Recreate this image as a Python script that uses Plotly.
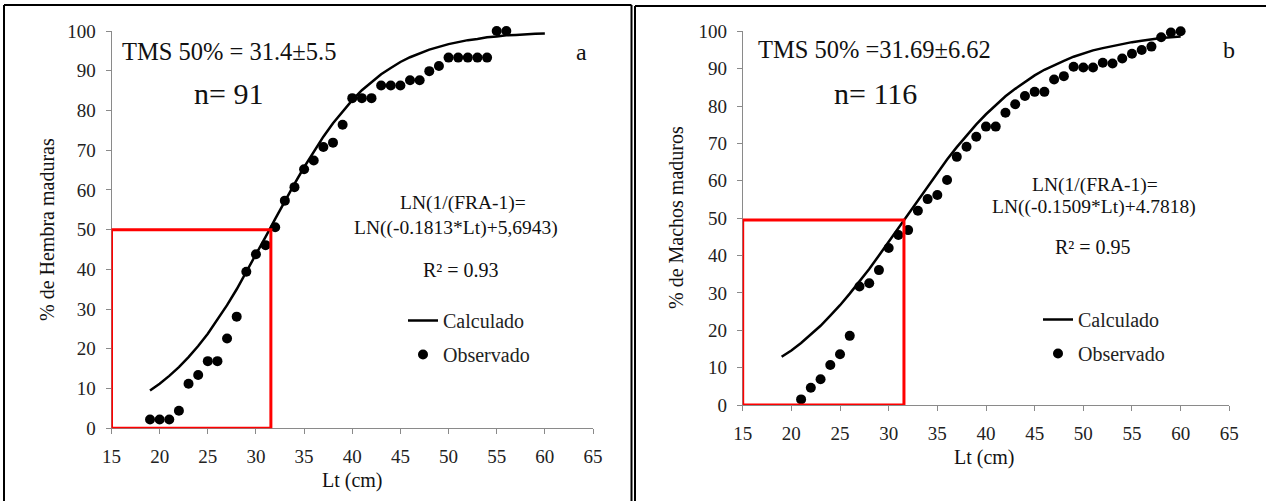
import plotly.graph_objects as go

W, H = 1267, 501
FONT = "Liberation Serif, Times New Roman, Tinos, serif"

# ---------------- data ----------------
# Panel a: hembras
lt_obs_a = list(range(19, 57))
pct_obs_a = [2.2, 2.2, 2.2, 4.4, 11.2, 13.4, 16.9, 16.9, 22.6, 28.1,
             39.4, 43.8, 46.1, 50.6, 57.3, 60.7, 65.2, 67.4, 70.8, 71.9,
             76.4, 83.1, 83.1, 83.1, 86.3, 86.3, 86.3, 87.6, 87.6, 89.9,
             91.2, 93.3, 93.3, 93.3, 93.3, 93.3, 100.0, 100.0]
lt_calc_a = list(range(19, 61))
pct_calc_a = [9.5, 11.2, 13.2, 15.4, 17.9, 20.7, 23.8, 27.3, 31.0, 35.0,
              39.3, 43.7, 48.2, 52.7, 57.2, 61.5, 65.7, 69.7, 73.4, 76.8,
              79.8, 82.6, 85.1, 87.2, 89.1, 90.7, 92.2, 93.4, 94.4, 95.3,
              96.0, 96.7, 97.2, 97.7, 98.0, 98.4, 98.6, 98.9, 99.0, 99.2,
              99.3, 99.4]

# Panel b: machos
lt_obs_b = list(range(21, 61))
pct_obs_b = [1.5, 4.6, 6.9, 10.7, 13.6, 18.5, 31.7, 32.6, 36.1, 42.0,
             45.5, 46.8, 52.0, 55.1, 56.2, 60.2, 66.4, 69.1, 71.8, 74.5,
             74.5, 78.2, 80.5, 82.7, 83.8, 83.8, 87.1, 88.0, 90.5, 90.3,
             90.3, 91.6, 91.4, 92.7, 94.0, 95.0, 95.9, 98.4, 99.7, 100.0]
lt_calc_b = list(range(19, 61))
pct_calc_b = [12.9, 14.6, 16.6, 18.8, 21.2, 23.9, 26.7, 29.8, 33.0, 36.4,
              40.0, 43.7, 47.4, 51.2, 54.9, 58.6, 62.2, 65.7, 69.0, 72.2,
              75.1, 77.8, 80.3, 82.6, 84.6, 86.5, 88.2, 89.7, 91.0, 92.1,
              93.2, 94.1, 94.9, 95.5, 96.1, 96.7, 97.1, 97.5, 97.9, 98.2,
              98.4, 98.6]

x_ticks = [15, 20, 25, 30, 35, 40, 45, 50, 55, 60, 65]
y_ticks = [0, 10, 20, 30, 40, 50, 60, 70, 80, 90, 100]
# ----------------------------------------------------------------


def px(x):
    return x / W


def py(y):
    return 1 - y / H


fig = go.Figure()

fig.add_trace(go.Scatter(x=lt_calc_a, y=pct_calc_a, mode="lines", name="Calculado",
                         line=dict(color="black", width=2.5), xaxis="x", yaxis="y",
                         legend="legend", legendgroup="c", cliponaxis=False))
fig.add_trace(go.Scatter(x=lt_obs_a, y=pct_obs_a, mode="markers", name="Observado",
                         marker=dict(color="black", size=10), xaxis="x", yaxis="y",
                         legend="legend", legendgroup="o", cliponaxis=False))
fig.add_trace(go.Scatter(x=lt_calc_b, y=pct_calc_b, mode="lines", name="Calculado",
                         line=dict(color="black", width=2.5), xaxis="x2", yaxis="y2",
                         legend="legend2", legendgroup="c2", cliponaxis=False))
fig.add_trace(go.Scatter(x=lt_obs_b, y=pct_obs_b, mode="markers", name="Observado",
                         marker=dict(color="black", size=10), xaxis="x2", yaxis="y2",
                         legend="legend2", legendgroup="o2", cliponaxis=False))

axis_common = dict(showgrid=False, zeroline=False, showline=True, linecolor="#8a8a8a",
                   linewidth=1, ticks="outside", ticklen=5, tickcolor="#8a8a8a",
                   automargin=False, ticklabelstandoff=6,
                   tickfont=dict(family=FONT, size=19, color="#222"))

legend_common = dict(xanchor="left", yanchor="top", bgcolor="rgba(0,0,0,0)",
                     font=dict(family=FONT, size=20, color="#222"),
                     traceorder="grouped", tracegroupgap=5)

fig.update_layout(
    width=W, height=H, margin=dict(l=0, r=0, t=0, b=0, autoexpand=False),
    paper_bgcolor="white", plot_bgcolor="white",
    font=dict(family=FONT, color="#222"),
    xaxis=dict(domain=[px(111.5), px(593)], range=[15, 65], tickvals=x_ticks,
               anchor="y", **axis_common),
    yaxis=dict(domain=[py(428.3), py(31)], range=[0, 100], tickvals=y_ticks,
               anchor="x", **axis_common),
    xaxis2=dict(domain=[px(742.7), px(1229.3)], range=[15, 65], tickvals=x_ticks,
                anchor="y2", **axis_common),
    yaxis2=dict(domain=[py(405), py(31.3)], range=[0, 100], tickvals=y_ticks,
                anchor="x2", **axis_common),
    legend=dict(x=px(403), y=py(301), **legend_common),
    legend2=dict(x=px(1038), y=py(300), **legend_common),
    showlegend=True,
)

shapes = [
    # outer panel borders
    dict(type="line", xref="paper", yref="paper", x0=px(4), x1=px(4), y0=py(5), y1=py(505),
         line=dict(color="black", width=2)),
    dict(type="line", xref="paper", yref="paper", x0=px(4), x1=px(631.5), y0=py(5), y1=py(5),
         line=dict(color="black", width=2)),
    dict(type="line", xref="paper", yref="paper", x0=px(631.5), x1=px(631.5), y0=py(5), y1=py(505),
         line=dict(color="black", width=2)),
    dict(type="line", xref="paper", yref="paper", x0=px(635), x1=px(635), y0=py(6), y1=py(505),
         line=dict(color="black", width=2)),
    dict(type="line", xref="paper", yref="paper", x0=px(635), x1=px(1266), y0=py(6), y1=py(6),
         line=dict(color="black", width=2)),
    # red highlight boxes
    dict(type="rect", xref="x", yref="y", x0=15, x1=31.55, y0=0, y1=50,
         line=dict(color="#ff0000", width=3)),
    dict(type="rect", xref="x2", yref="y2", x0=15, x1=31.57, y0=0, y1=49.5,
         line=dict(color="#ff0000", width=3)),
]
fig.update_layout(shapes=shapes)


def ann(text, x, y, size, xanchor="center", angle=0):
    return dict(text=text, x=px(x), y=py(y), xref="paper", yref="paper",
                xanchor=xanchor, yanchor="middle", showarrow=False, textangle=angle,
                font=dict(family=FONT, size=size, color="#111"))


annotations = [
    ann("TMS 50% = 31.4±5.5", 120, 52, 24.5, "left"),
    ann("n= 91", 192, 94, 30, "left"),
    ann("a", 581, 52, 24),
    ann("LN(1/(FRA-1)=", 463, 203, 19.5),
    ann("LN((-0.1813*Lt)+5,6943)", 456, 228, 19.5),
    ann("R² = 0.93", 461, 270, 20),
    ann("% de Hembra maduras", 47, 230, 20, angle=-90),
    ann("Lt (cm)", 352, 480, 20),

    ann("TMS 50% =31.69±6.62", 756, 50, 24.5, "left"),
    ann("n= 116", 832, 94, 30, "left"),
    ann("b", 1229, 50, 24),
    ann("LN(1/(FRA-1)=", 1095, 185, 19.5),
    ann("LN((-0.1509*Lt)+4.7818)", 1094, 207, 19.5),
    ann("R² = 0.95", 1093, 247, 20),
    ann("% de Machos maduros", 676, 218, 20, angle=-90),
    ann("Lt (cm)", 985, 457, 20),
]
fig.update_layout(annotations=annotations)

fig.write_html("out.html")
